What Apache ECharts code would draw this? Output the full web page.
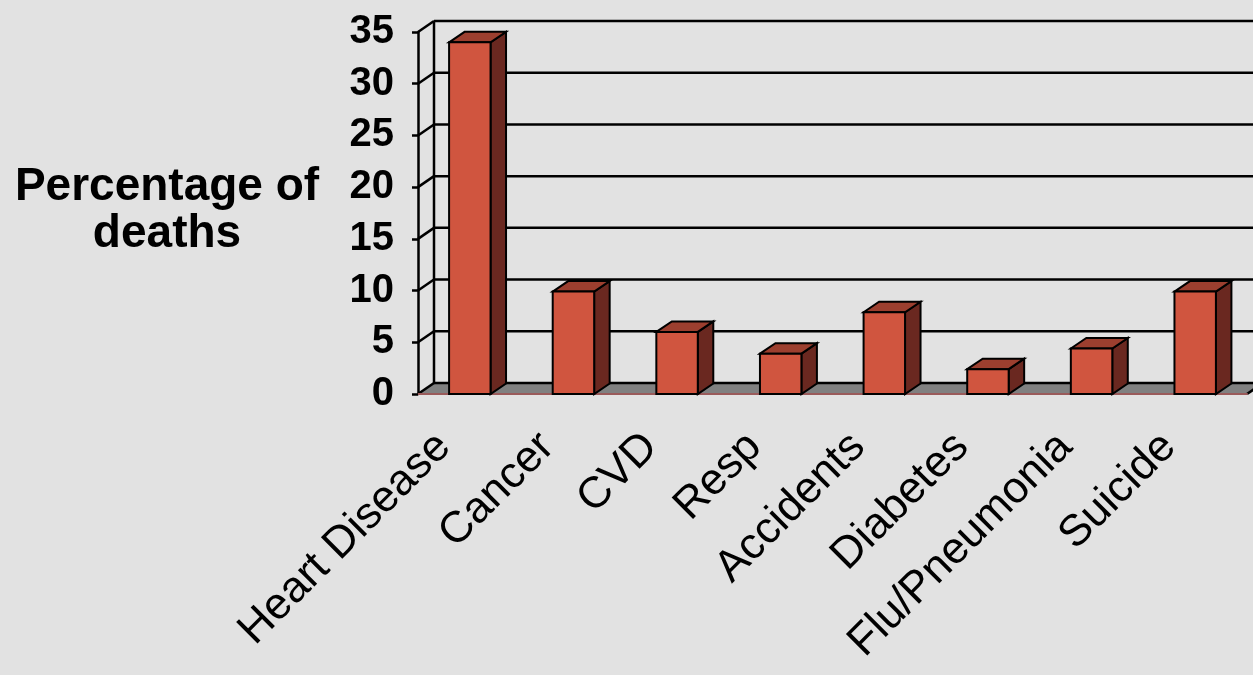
<!DOCTYPE html>
<html>
<head>
<meta charset="utf-8">
<script src="https://cdn.jsdelivr.net/npm/echarts@6/dist/echarts.min.js"></script>
<style>
  html, body { margin: 0; padding: 0; background: #e2e2e2; }
  #chart { width: 1253px; height: 675px; }
</style>
</head>
<body>
<div id="chart"></div>
<script>
// values
var categories = ['Heart Disease', 'Cancer', 'CVD', 'Resp', 'Accidents', 'Diabetes', 'Flu/Pneumonia', 'Suicide'];
var percentages = [34, 9.9, 6, 3.9, 7.9, 2.4, 4.4, 9.9];
var yTicks = [0, 5, 10, 15, 20, 25, 30, 35];

// depth of the fake 3d box
var WALL_DX = 16, WALL_DY = -11;
var BAR_DX = 15.5, BAR_DY = -10.5;
var FONT = '"Liberation Sans", Arial, sans-serif';

var chart = echarts.init(document.getElementById('chart'));

// back wall gridlines, left wall connectors and the grey floor
function renderWall(params, api) {
    var v = api.value(0);
    var band = api.size([1, 0])[0];
    var p = api.coord([0, v]);
    var xl = p[0] - band / 2;
    var xr = api.coord([categories.length - 1, v])[0] + band / 2;
    var y = p[1];
    var line = { stroke: '#000', lineWidth: 2.5 };
    var kids = [];
    if (v === 0) {
        kids.push({
            type: 'polygon',
            shape: { points: [[xl, y], [xr, y], [xr + WALL_DX, y + WALL_DY], [xl + WALL_DX, y + WALL_DY]] },
            style: { fill: '#808080' }
        });
        var yTop = api.coord([0, yTicks[yTicks.length - 1]])[1];
        kids.push({
            type: 'line',
            shape: { x1: xl + WALL_DX, y1: yTop + WALL_DY, x2: xl + WALL_DX, y2: y + WALL_DY },
            style: line
        });
        kids.push({
            type: 'line',
            shape: { x1: xr, y1: y, x2: xr + WALL_DX, y2: y + WALL_DY },
            style: line
        });
    }
    kids.push({
        type: 'line',
        shape: { x1: xl + WALL_DX, y1: y + WALL_DY, x2: xr + WALL_DX, y2: y + WALL_DY },
        style: line
    });
    kids.push({
        type: 'line',
        shape: { x1: xl, y1: y, x2: xl + WALL_DX, y2: y + WALL_DY },
        style: line
    });
    return { type: 'group', children: kids };
}

// one box per category: front face, right side, top
function renderBar(params, api) {
    var idx = api.value(0);
    var top = api.coord([idx, api.value(1)]);
    var base = api.coord([idx, 0]);
    var w = api.size([1, 0])[0] * 0.4;
    var x0 = top[0] - w / 2, x1 = top[0] + w / 2;
    var yt = top[1], yb = base[1];
    var edge = { stroke: '#000', lineWidth: 2 };
    return {
        type: 'group',
        children: [
            {
                type: 'polygon',
                shape: { points: [[x1, yt], [x1 + BAR_DX, yt + BAR_DY], [x1 + BAR_DX, yb + BAR_DY], [x1, yb]] },
                style: Object.assign({ fill: '#6a2820' }, edge)
            },
            {
                type: 'polygon',
                shape: { points: [[x0, yt], [x0 + BAR_DX, yt + BAR_DY], [x1 + BAR_DX, yt + BAR_DY], [x1, yt]] },
                style: Object.assign({ fill: '#9c3f2f' }, edge)
            },
            {
                type: 'rect',
                shape: { x: x0, y: yt, width: w, height: yb - yt },
                style: Object.assign({ fill: '#d0553f' }, edge)
            }
        ]
    };
}

var option = {
    backgroundColor: '#e2e2e2',
    animation: false,
    grid: { left: 418, right: 6, top: 32, bottom: 281 },
    graphic: [{
        type: 'text',
        x: 167,
        y: 211,
        style: {
            text: 'Percentage of\ndeaths',
            font: 'bold 46px ' + FONT,
            lineHeight: 47,
            fill: '#000',
            align: 'center',
            verticalAlign: 'middle'
        }
    }],
    xAxis: {
        type: 'category',
        data: categories,
        z: 1,
        axisLine: { lineStyle: { color: '#9a5a5a', width: 2 } },
        axisTick: { length: 7, lineStyle: { color: '#9a5a5a', width: 2 } },
        axisLabel: {
            rotate: 45,
            margin: 20,
            interval: 0,
            padding: [0, 37, 0, 0],
            fontFamily: FONT,
            fontSize: 44,
            color: '#000'
        },
        splitLine: { show: false }
    },
    yAxis: {
        type: 'value',
        min: 0,
        max: 35,
        interval: 5,
        z: 1,
        axisLine: { show: true, lineStyle: { color: '#000', width: 2.5 } },
        axisTick: { show: true, length: 6, lineStyle: { color: '#000', width: 2.5 } },
        axisLabel: {
            margin: 24,
            padding: [0, 0, 8, 0],
            fontFamily: FONT,
            fontSize: 40,
            fontWeight: 'bold',
            color: '#000'
        },
        splitLine: { show: false }
    },
    series: [
        {
            type: 'custom',
            z: 0,
            silent: true,
            renderItem: renderWall,
            data: yTicks.map(function (v) { return [v]; })
        },
        {
            type: 'custom',
            z: 2,
            renderItem: renderBar,
            encode: { x: 0, y: 1 },
            data: percentages.map(function (v, i) { return [i, v]; })
        }
    ]
};

chart.setOption(option);
</script>
</body>
</html>
